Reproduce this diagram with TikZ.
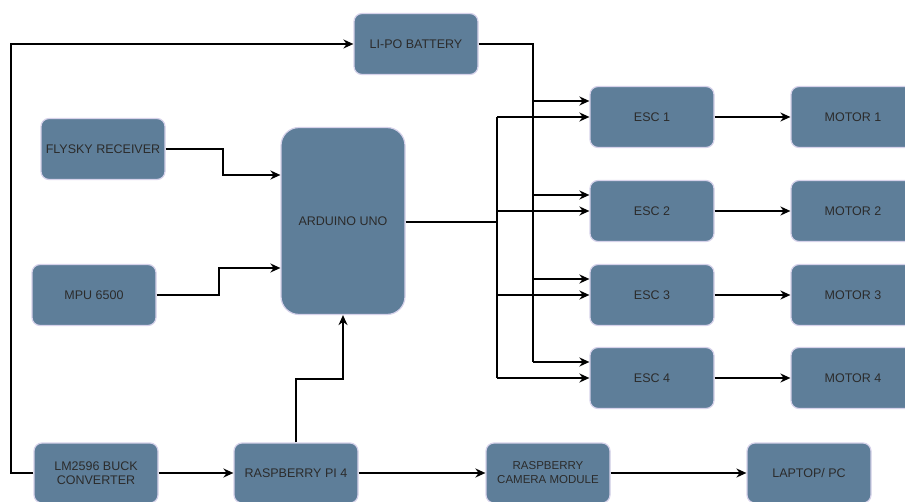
\documentclass[tikz,border=0pt]{standalone}
\usepackage{fontspec}
\setmainfont{Liberation Sans}
\usetikzlibrary{arrows.meta,calc}
\definecolor{boxFill}{HTML}{5E7E99}
\definecolor{boxEdge}{HTML}{D6D2EA}
\definecolor{boxText}{HTML}{2B2B2B}
\begin{document}
\begin{tikzpicture}[
            x=1pt, y=-1pt,
            bNode/.style={draw=boxEdge, line width=1.2pt, fill=boxFill, text=boxText, align=center, rectangle, rounded corners=8pt, minimum width=124pt, minimum height=61pt, inner sep=2pt, font=\fontsize{12.5}{14.5}\selectfont},
            aNode/.style={bNode, rounded corners=18pt, minimum height=187pt},
            conn/.style={line width=1.9pt, -{Stealth[length=10pt,width=9pt]}},
            pwrLine/.style={line width=2.5pt}
        ]
        \useasboundingbox (0,0) rectangle (905,502);

        % blocks
        \node [bNode] (bat) at (416,44) {LI-PO BATTERY};
        \node [bNode] (fly) at (103,149) {FLYSKY RECEIVER};
        \node [bNode] (mpu) at (94,295) {MPU 6500};
        \node [aNode] (ard) at (343,221) {ARDUINO UNO};
        \foreach \i/\y in {1/117, 2/211, 3/295, 4/378} {
            \node [bNode] (esc\i) at (652,\y) {ESC \i};
            \node [bNode] (mot\i) at (853,\y) {MOTOR \i};
        }
        \node [bNode, minimum height=60pt] (buck) at (96,473) {LM2596 BUCK\\CONVERTER};
        \node [bNode, minimum height=60pt] (rpi) at (296,473) {RASPBERRY PI 4};
        \node [bNode, minimum height=60pt, font=\fontsize{11.5}{14}\selectfont] (cam) at (548,473) {RASPBERRY\\CAMERA MODULE};
        \node [bNode, minimum height=60pt] (pc) at (809,473) {LAPTOP/ PC};

        % bus points
        \coordinate (bbus) at (533,44);
        \coordinate (abus) at (497,222);

        % power
        \draw [conn] (buck.west) -- ++(-22,0) |- (bat.west);
        \draw [pwrLine] (bat.east) -- (bbus) -- ($(esc4.west -| bbus)+(0,-16)$);
        \foreach \i in {1,...,4}
            \draw [conn] ($(esc\i.west -| bbus)+(0,-16)$) -- ($(esc\i.west)+(0,-16)$);

        % signals
        \draw [conn] (fly.east) -- ++(57,0) |- ($(ard.west)+(0,-46)$);
        \draw [conn] (mpu.east) -- ++(62,0) |- ($(ard.west)+(0,47)$);
        \draw [conn] (rpi.north) -- ++(0,-63) -| (ard.south);
        \draw [pwrLine] (ard.east |- abus) -- (abus);
        \draw [line width=1.9pt] (esc1.west -| abus) -- (esc4.west -| abus);
        \foreach \i in {1,...,4} {
            \draw [conn] (esc\i.west -| abus) -- (esc\i.west);
            \draw [conn] (esc\i.east) -- (mot\i.west);
        }
        \draw [conn] (buck.east) -- (rpi.west);
        \draw [conn] (rpi.east) -- (cam.west);
        \draw [conn] (cam.east) -- (pc.west);

    \end{tikzpicture}
\end{document}
